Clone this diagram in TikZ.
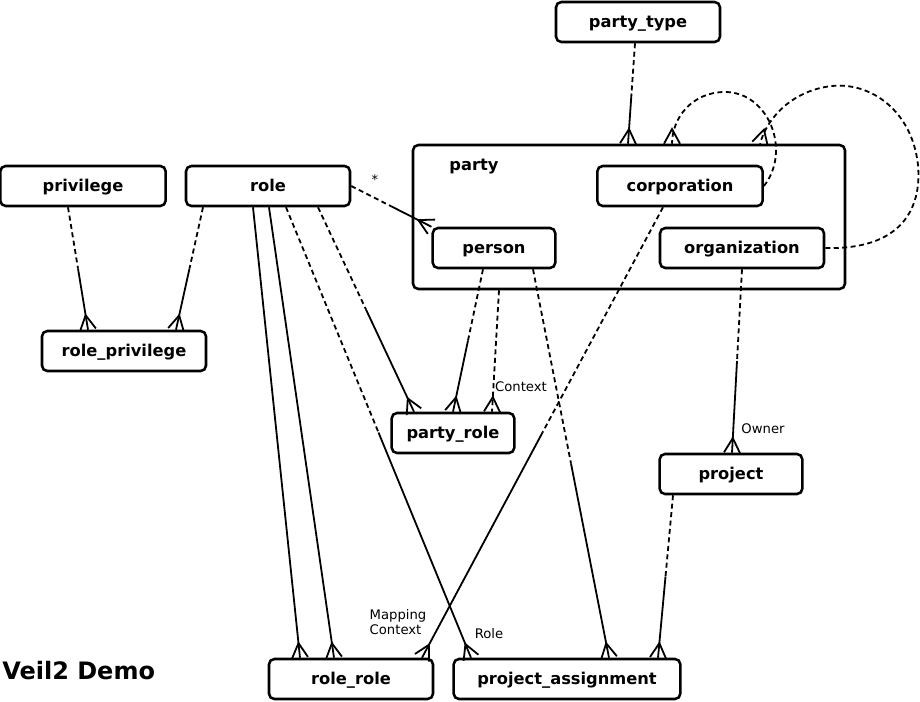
\documentclass[tikz,border=0pt]{standalone}
\usepackage{fontspec}
\setmainfont{DejaVu Sans}
\usetikzlibrary{calc}
\tikzset{
  ent/.style={draw, rounded corners=4pt, font=\bfseries\fontsize{12.2}{14}\selectfont,
              line width=1.9pt, minimum height=30pt, minimum width=123pt, inner sep=0pt,
              text height=0.94em, text depth=0.18em},
  grp/.style={draw, rounded corners=4pt, line width=1.9pt, inner sep=0pt},
  cf/.style={line width=1.35pt},
  opt/.style={cf, dash pattern=on 3.75pt off 2.6pt},
  lbl/.style={font=\fontsize{9.9}{11.5}\selectfont, inner sep=1pt, align=left},
}
% crow's foot at #1, line coming from #2
\newcommand{\crowfoot}[2]{%
  \draw[cf] ($(#1)!6pt!90:(#2)$) -- ($(#1)!11pt!(#2)$) -- ($(#1)!6pt!-90:(#2)$);}
% relation: #2 = one end (optional, dashed), #3 = many end (solid)
\newcommand{\rel}[3][0.5]{%
  \coordinate (ra) at (#2);
  \coordinate (rb) at (#3);
  \coordinate (rm) at ($(ra)!#1!(rb)$);
  \draw[opt] (ra) -- (rm);
  \draw[cf] (rm) -- (rb);
  \crowfoot{rb}{ra}}

\begin{document}
\begin{tikzpicture}[x=0.75pt, y=-0.75pt]
  \useasboundingbox (0,0) rectangle (920,702);
  % entities
  \node[grp, minimum width=324pt, minimum height=108pt] (party) at (629,217) {};
  \node[font=\bfseries\fontsize{12.2}{14}\selectfont, inner sep=0pt] (plbl) at (474,167) {party};
  \node[ent] (pt) at (638,22) {party\_type};
  \node[ent, minimum width=124pt] (corp) at (680,186) {corporation};
  \node[ent, minimum width=92pt] (pers) at (494,248) {person};
  \node[ent] (org) at (742,248) {organization};
  \node[ent, minimum width=124pt] (priv) at (83,186) {privilege};
  \node[ent] (role) at (268,186) {role};
  \node[ent] (rp) at (124,351) {role\_privilege};
  \node[ent, minimum width=92pt] (pr) at (453,433) {party\_role};
  \node[ent, minimum width=107pt] (proj) at (731,474) {project};
  \node[ent] (rr) at (351,679) {role\_role};
  \node[ent, minimum width=170pt] (pa) at (567,679) {project\_assignment};
  \node[font=\bfseries\fontsize{18}{20}\selectfont, anchor=west, inner sep=0pt] (title) at (2,671) {Veil2 Demo};

  % relations
  \rel{$(pt.south)+(-3,0)$}{$(party.north)+(-1,0)$}
  \rel{$(priv.south)+(-15,0)$}{$(rp.north)+(-36,0)$}
  \rel{$(role.south)+(-65,0)$}{$(rp.north)+(52,0)$}
  \rel{role.east}{pers.north west}
  \rel{$(role.south)+(18,0)$}{$(pa.north)+(-96,0)$}
  \rel{$(role.south)+(50,0)$}{$(pr.north)+(-39,0)$}
  \rel{$(pers.south)+(-11,0)$}{$(pr.north)+(0,0)$}
  \rel{$(pers.south)+(39,0)$}{$(pa.north)+(42,0)$}
  \rel{$(corp.south)+(-17,0)$}{$(rr.north)+(71,0)$}
  \rel{org.south}{$(proj.north)+(1,0)$}
  \rel{$(proj.south)+(-58,0)$}{$(pa.north)+(91,0)$}

  % mandatory on both sides
  \draw[cf] ($(role.south)+(-15,0)$) coordinate (s1) -- ($(rr.north)+(-51,0)$) coordinate (t1);
  \crowfoot{t1}{s1}
  \draw[cf] ($(role.south)+(1,0)$) coordinate (s2) -- ($(rr.north)+(-17,0)$) coordinate (t2);
  \crowfoot{t2}{s2}

  % optional on both sides
  \draw[opt] ($(party.south)+(-130,0)$) coordinate (s3) -- ($(pr.north)+(39,0)$) coordinate (t3);
  \crowfoot{t3}{s3}
  \coordinate (c1) at ($(party.north)+(43,0)$);
  \coordinate (c1r) at (672,118);
  \draw[opt] (corp.east) .. controls (792,150) and (768,92) .. (725,92)
    .. controls (692,92) and (672,118) .. (c1);
  \crowfoot{c1}{c1r}
  \coordinate (c2) at ($(party.north)+(131,0)$);
  \coordinate (c2r) at (768,115);
  \draw[opt] (org.east) .. controls (900,250) and (922,210) .. (918,165)
    .. controls (912,110) and (870,82) .. (832,86)
    .. controls (795,90) and (768,115) .. (c2);
  \crowfoot{c2}{c2r}

  % labels
  \node[lbl] (star) at (375,180) {*};
  \node[lbl] (ctx) at (521,387) {Context};
  \node[lbl] (own) at (763,429) {Owner};
  \node[lbl] (rlbl) at (489,634) {Role};
  \node[lbl] (mctx) at (398,622) {Mapping\\Context};
\end{tikzpicture}
\end{document}
